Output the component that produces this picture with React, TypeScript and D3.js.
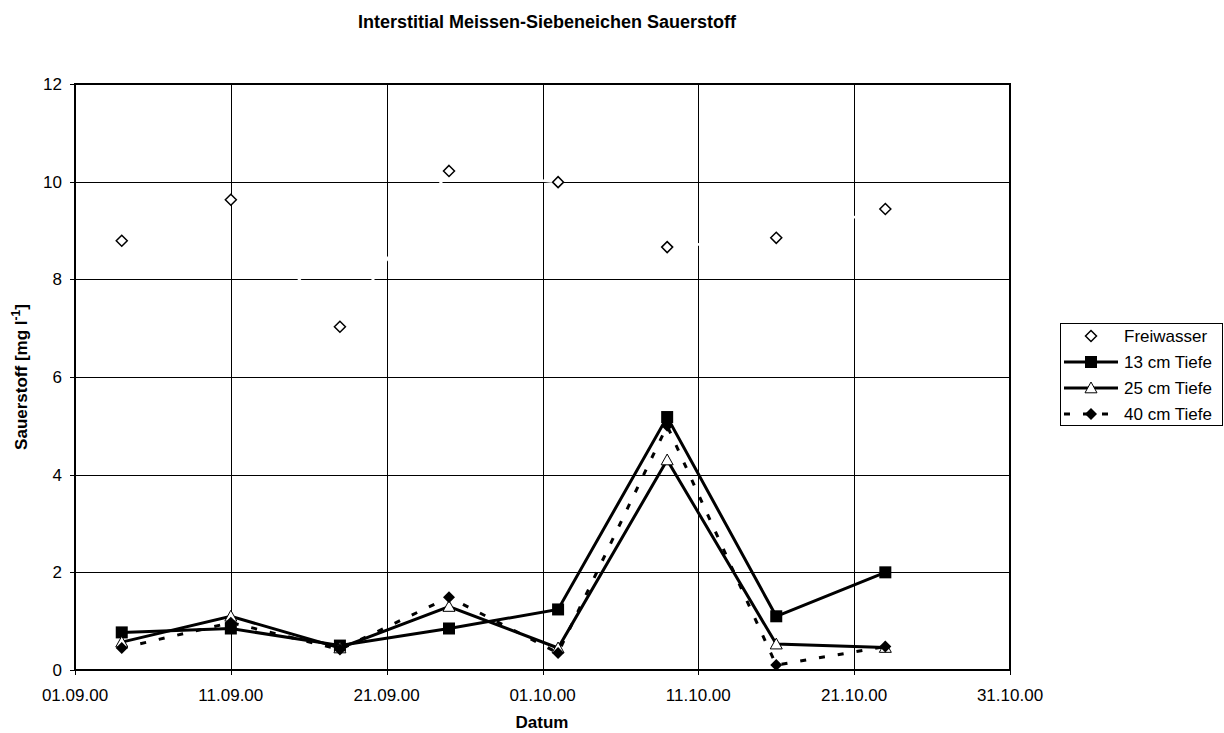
import React from "react";
import * as d3 from "d3";

const dates: string[] = ["2000-09-04", "2000-09-11", "2000-09-18", "2000-09-25", "2000-10-02", "2000-10-09", "2000-10-16", "2000-10-23"];
const freiwasser: number[] = [8.79, 9.63, 7.03, 10.22, 9.99, 8.66, 8.85, 9.44];
const tiefe13: number[] = [0.77, 0.85, 0.5, 0.85, 1.24, 5.18, 1.1, 2.0];
const tiefe25: number[] = [0.57, 1.1, 0.45, 1.3, 0.45, 4.3, 0.53, 0.46];
const tiefe40: number[] = [0.45, 0.97, 0.42, 1.49, 0.35, 5.0, 0.1, 0.48];
const xTickLabels: string[] = ["01.09.00", "11.09.00", "21.09.00", "01.10.00", "11.10.00", "21.10.00", "31.10.00"];
const yTicks: number[] = [0, 2, 4, 6, 8, 10, 12];
const seriesNames: string[] = ["Freiwasser", "13 cm Tiefe", "25 cm Tiefe", "40 cm Tiefe"];

const W = 1224, H = 733;
const L = 75, R = 1010, T = 84, B = 670;
const font = "Arial, 'Liberation Sans', sans-serif";
const FS = 17;

const parse = d3.timeParse("%Y-%m-%d");
const parseTick = d3.timeParse("%d.%m.%y");

export default function App() {
  const x = d3.scaleTime().domain([parse("2000-09-01")!, parse("2000-10-31")!]).range([L, R]);
  const y = d3.scaleLinear().domain([0, 12]).range([B, T]);
  const xs = dates.map((d) => x(parse(d)!));
  const tickDates = xTickLabels.map((t) => parseTick(t)!);

  const mk = (vals: number[]) =>
    d3.line<number>().x((_, i) => xs[i]).y((v) => y(v))(vals) || "";

  const diamond = (cx: number, cy: number, r: number) =>
    `M${cx},${cy - r}L${cx + r},${cy}L${cx},${cy + r}L${cx - r},${cy}Z`;
  const triangle = (cx: number, cy: number, r: number) =>
    `M${cx},${cy - r}L${cx + r},${cy + r * 0.8}L${cx - r},${cy + r * 0.8}Z`;

  const marker = (kind: number, cx: number, cy: number, key: string) => {
    if (kind === 0) return <path key={key} d={diamond(cx, cy, 5.5)} fill="#fff" stroke="#000" strokeWidth={1.5} />;
    if (kind === 1) return <rect key={key} x={cx - 6} y={cy - 6} width={12} height={12} fill="#000" />;
    if (kind === 2) return <path key={key} d={triangle(cx, cy, 6)} fill="#fff" stroke="#000" strokeWidth={1} />;
    return <path key={key} d={diamond(cx, cy, 6)} fill="#000" />;
  };

  const lineStyles = [
    { stroke: "#fff", width: 2.5, dash: undefined as string | undefined },
    { stroke: "#000", width: 3, dash: undefined },
    { stroke: "#000", width: 3, dash: undefined },
    { stroke: "#000", width: 3, dash: "6 13" },
  ];
  const allSeries = [freiwasser, tiefe13, tiefe25, tiefe40];

  const legX = 1060, legY = 323, legW = 162, legH = 102;
  const rowYs = [336, 362, 388, 414];

  return (
    <svg width={W} height={H} style={{ position: "absolute", left: 0, top: 0, background: "#fff" }} fontFamily={font}>
      <rect x={0} y={0} width={W} height={H} fill="#fff" />
      <text x={547} y={28} textAnchor="middle" fontSize={18} fontWeight="bold">
        Interstitial Meissen-Siebeneichen Sauerstoff
      </text>
      {/* gridlines */}
      {yTicks.map((t) => (
        <line key={"gy" + t} x1={L} x2={R} y1={Math.round(y(t)) + 0.5} y2={Math.round(y(t)) + 0.5} stroke="#000" strokeWidth={1} />
      ))}
      {tickDates.map((d, i) => (
        <line key={"gx" + i} x1={Math.round(x(d)) + 0.5} x2={Math.round(x(d)) + 0.5} y1={T} y2={B} stroke="#000" strokeWidth={1} />
      ))}
      {/* ticks */}
      {yTicks.map((t) => (
        <line key={"ty" + t} x1={L - 5} x2={L} y1={Math.round(y(t)) + 0.5} y2={Math.round(y(t)) + 0.5} stroke="#000" strokeWidth={1} />
      ))}
      {tickDates.map((d, i) => (
        <line key={"tx" + i} x1={Math.round(x(d)) + 0.5} x2={Math.round(x(d)) + 0.5} y1={B} y2={B + 5} stroke="#000" strokeWidth={1} />
      ))}
      {/* series lines */}
      {allSeries.map((s, i) => (
        <path key={"l" + i} d={mk(s)} fill="none" stroke={lineStyles[i].stroke} strokeWidth={lineStyles[i].width}
          strokeDasharray={lineStyles[i].dash} strokeLinejoin="miter" />
      ))}
      {/* plot border */}
      <rect x={L} y={T} width={R - L} height={B - T} fill="none" stroke="#000" strokeWidth={2} />
      {/* markers */}
      {allSeries.map((s, i) => s.map((v, j) => marker(i, xs[j], y(v), `m${i}-${j}`)))}
      {/* tick labels */}
      {yTicks.map((t) => (
        <text key={"yl" + t} x={62} y={y(t) + 6} textAnchor="end" fontSize={FS}>{t}</text>
      ))}
      {tickDates.map((d, i) => (
        <text key={"xl" + i} x={x(d)} y={B + 31} textAnchor="middle" fontSize={FS}>{xTickLabels[i]}</text>
      ))}
      <text x={542} y={728} textAnchor="middle" fontSize={FS} fontWeight="bold">Datum</text>
      <text transform={`translate(27,${(T + B) / 2}) rotate(-90)`} textAnchor="middle" fontSize={FS} fontWeight="bold">
        Sauerstoff [mg l<tspan dy={-7} fontSize={12}>-1</tspan><tspan dy={7}>]</tspan>
      </text>
      {/* legend */}
      <rect x={legX + 0.5} y={legY + 0.5} width={legW} height={legH} fill="#fff" stroke="#000" strokeWidth={1} />
      {seriesNames.map((n, i) => {
        const ry = rowYs[i];
        const x1 = 1064, x2 = 1118, cx = (x1 + x2) / 2;
        return (
          <g key={"lg" + i}>
            {i > 0 && (
              <line x1={x1} x2={x2} y1={ry} y2={ry} stroke="#000" strokeWidth={3} strokeDasharray={lineStyles[i].dash ? "6 13" : undefined} />
            )}
            {marker(i, cx, ry, "lm" + i)}
            <text x={1124} y={ry + 6} fontSize={FS}>{n}</text>
          </g>
        );
      })}
    </svg>
  );
}
